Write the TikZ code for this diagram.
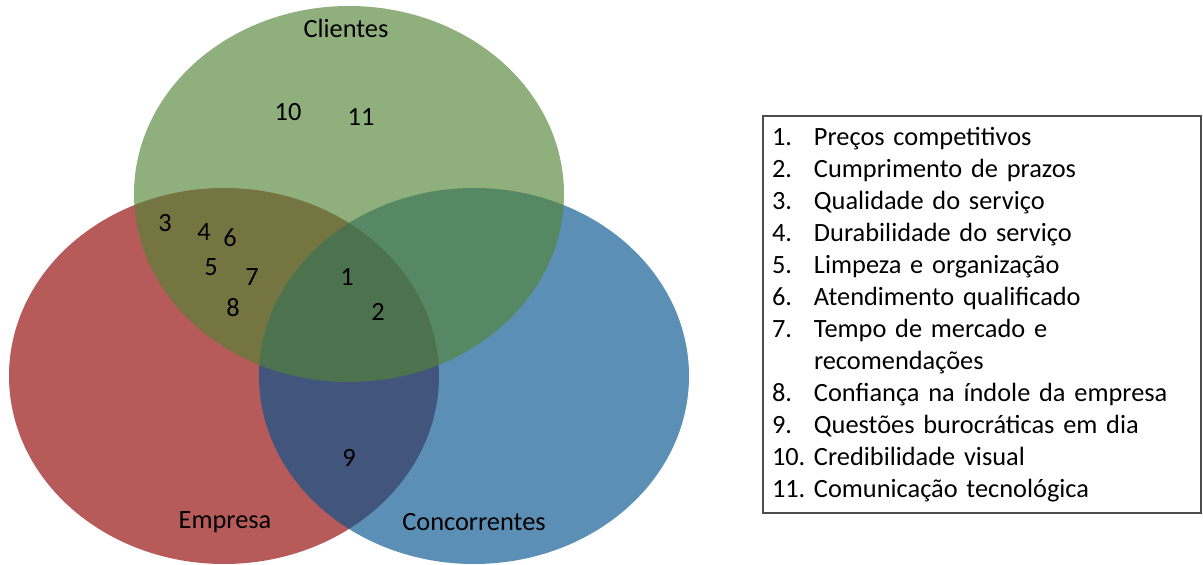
\documentclass[tikz,border=0pt]{standalone}
\usepackage{fontspec}
\setmainfont{Carlito}
\usepackage{xcolor}
\usepackage{tikz}
\usetikzlibrary{shapes.geometric,positioning}

\definecolor{empresacor}{RGB}{144,1,1}
\definecolor{concorrcor}{RGB}{4,83,143}
\definecolor{clientecor}{RGB}{83,132,54}

\newcommand{\legnum}[1]{\makebox[0.84cm][l]{#1}}

\begin{document}
\begin{tikzpicture}[
  set/.style={ellipse, minimum width=8.6cm, minimum height=7.52cm,
    inner sep=0pt, draw=none, fill opacity=0.65},
  label/.style={font=\fontsize{15}{18.2}\selectfont, inner sep=1pt},
  legend/.style={draw=black!70, line width=0.6pt, align=left,
    minimum width=8.76cm, minimum height=7.94cm, inner sep=0.18cm,
    text width=8.4cm, font=\fontsize{15}{18.2}\selectfont},
]
\useasboundingbox (0,0) rectangle (24.06,-11.3);

% the three sets, green drawn last so it lies on top
\node[set, fill=empresacor] (empresa) at (4.48,-7.52) {};
\node[set, fill=concorrcor] (concorrentes) at (9.48,-7.52) {};
\node[set, fill=clientecor] (clientes) at (6.98,-3.88) {};

\node[label] (lclientes) at (6.92,-0.56) {Clientes};
\node[label] (lempresa) at (4.50,-10.44) {Empresa};
\node[label] (lconcorr) at (9.48,-10.44) {Concorrentes};

% numbered factors
\node[label] (n1) at (6.94,-5.54) {1};
\node[label] (n2) at (7.56,-6.24) {2};
\node[label] (n3) at (3.30,-4.46) {3};
\node[label] (n4) at (4.08,-4.64) {4};
\node[label] (n5) at (4.22,-5.34) {5};
\node[label] (n6) at (4.60,-4.76) {6};
\node[label] (n7) at (5.04,-5.54) {7};
\node[label] (n8) at (4.66,-6.16) {8};
\node[label] (n9) at (6.98,-9.16) {9};
\node[label] (n10) at (5.76,-2.24) {10};
\node[label] (n11) at (7.22,-2.34) {11};

% legend box
\node[legend] (legenda) at (19.64,-6.29) {%
  \legnum{1.}Preços competitivos\\
  \legnum{2.}Cumprimento de prazos\\
  \legnum{3.}Qualidade do serviço\\
  \legnum{4.}Durabilidade do serviço\\
  \legnum{5.}Limpeza e organização\\
  \legnum{6.}Atendimento qualificado\\
  \legnum{7.}Tempo de mercado e\\
  \legnum{}recomendações\\
  \legnum{8.}Confiança na índole da empresa\\
  \legnum{9.}Questões burocráticas em dia\\
  \legnum{10.}Credibilidade visual\\
  \legnum{11.}Comunicação tecnológica};
\end{tikzpicture}
\end{document}
